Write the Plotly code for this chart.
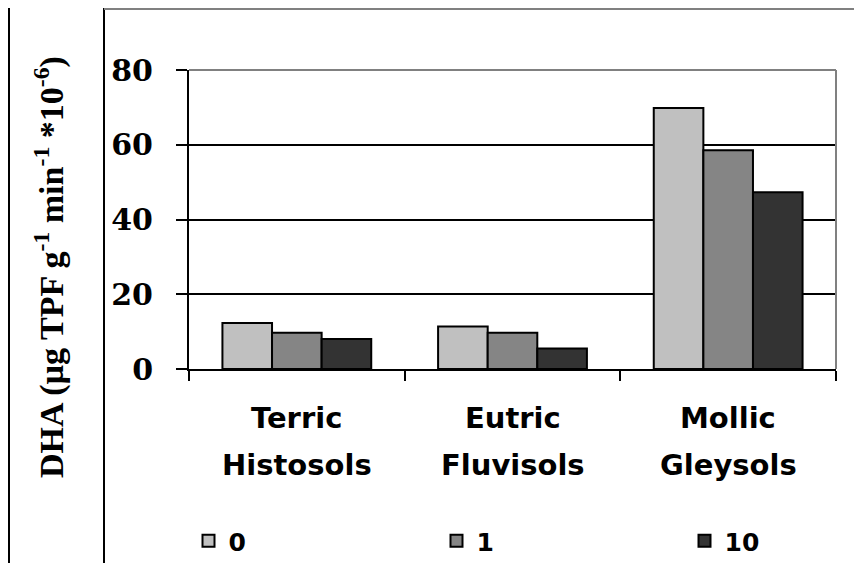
import plotly.graph_objects as go

# ---- data ----
categories = ["Terric Histosols", "Eutric Fluvisols", "Mollic Gleysols"]
label_line1 = ["Terric", "Eutric", "Mollic"]
label_line2 = ["Histosols", "Fluvisols", "Gleysols"]
series_names = ["0", "1", "10"]
values_0 = [12.3, 11.4, 69.8]
values_1 = [9.7, 9.7, 58.5]
values_10 = [8.0, 5.5, 47.3]
y_ticks = [0, 20, 40, 60, 80]

colors = ["#c0c0c0", "#858585", "#333333"]

# page has an 8px body margin; work in page pixel coordinates
OFF = 8
W, H = 862 - OFF, 563 - OFF
L, R, T, B = 189, 836, 70, 369  # page coordinates of the plot area


def px(xp):
    return (xp - L) / (R - L)


def py(yp):
    return (B - yp) / (B - T)


fig = go.Figure()
for name, vals, col in zip(series_names, [values_0, values_1, values_10], colors):
    fig.add_trace(go.Bar(
        x=categories, y=vals, name=name,
        marker=dict(color=col, line=dict(color="black", width=2)),
    ))

cat_font = dict(family="DejaVu Sans", size=29, color="black", weight="bold")
annotations = []
for cat, l1, l2 in zip(categories, label_line1, label_line2):
    annotations.append(dict(x=cat, xref="x", y=py(418), yref="paper", text=l1,
                            showarrow=False, xanchor="center", yanchor="middle", font=cat_font))
    annotations.append(dict(x=cat, xref="x", y=py(465), yref="paper", text=l2,
                            showarrow=False, xanchor="center", yanchor="middle", font=cat_font))

annotations.append(dict(
    x=px(49), xref="paper", y=py(267), yref="paper",
    text="DHA (µg TPF g<sup>-1</sup> min<sup>-1</sup> *10<sup>-6</sup>)",
    textangle=-90, showarrow=False, xanchor="center", yanchor="middle",
    font=dict(family="Liberation Serif", size=34, color="black", weight="bold")))

shapes = [
    # left title box
    dict(type="rect", xref="paper", yref="paper", x0=px(9), x1=px(104), y0=py(600), y1=py(7),
         line=dict(color="black", width=2), layer="above"),
    # top frame line
    dict(type="line", xref="paper", yref="paper", x0=px(104), x1=px(870), y0=py(9), y1=py(9),
         line=dict(color="#808080", width=2)),
    # plot area top and right border (grey)
    dict(type="line", xref="paper", yref="paper", x0=0, x1=1, y0=1, y1=1,
         line=dict(color="#808080", width=2), layer="above"),
    dict(type="line", xref="paper", yref="paper", x0=1, x1=1, y0=0, y1=1,
         line=dict(color="#808080", width=2), layer="above"),
]

fig.update_layout(
    width=W, height=H,
    margin=dict(l=L - OFF, r=(W + OFF) - R, t=T - OFF, b=(H + OFF) - B, pad=0,
                autoexpand=False),
    paper_bgcolor="white", plot_bgcolor="white",
    barmode="group", bargap=0.31, bargroupgap=0,
    showlegend=True,
    legend=dict(orientation="h",
                xref="paper", x=px(188.5), xanchor="left",
                yref="paper", y=py(541), yanchor="middle",
                entrywidth=203, entrywidthmode="pixels",
                font=dict(family="DejaVu Sans", size=25, color="black", weight="bold"),
                itemsizing="constant", bgcolor="rgba(0,0,0,0)"),
    xaxis=dict(showticklabels=False, showline=True, linecolor="black", linewidth=2,
               ticks="outside", ticklen=10, tickwidth=2, tickcolor="black",
               tickson="boundaries", showgrid=False),
    yaxis=dict(range=[0, 80], tickvals=y_ticks, showline=True, linecolor="black", linewidth=2,
               ticks="outside", ticklen=11, tickwidth=2, tickcolor="black",
               showgrid=True, gridcolor="black", gridwidth=2, zeroline=False,
               ticklabelstandoff=17,
               tickfont=dict(family="DejaVu Serif", size=30, color="black", weight="bold")),
    annotations=annotations,
    shapes=shapes,
)

fig.write_html("out.html")
